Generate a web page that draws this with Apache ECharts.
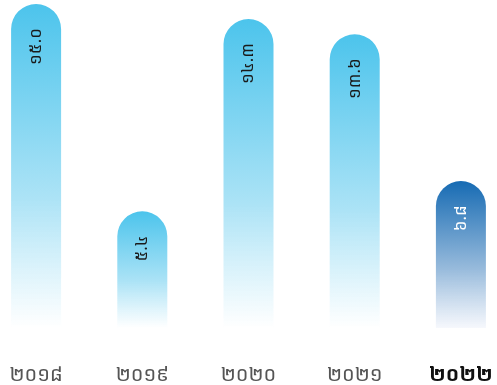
<!DOCTYPE html>
<html>
<head>
<meta charset="utf-8">
<style>
  html, body { margin: 0; padding: 0; background: #ffffff; overflow: hidden; width: 497px; height: 385px; }
  /* the plot runs slightly past both window edges so the outer bars sit close to the border */
  #chart { position: absolute; left: -17px; top: 0; width: 531px; height: 385px; }
</style>
<script src="https://cdn.jsdelivr.net/npm/echarts@6/dist/echarts.min.js"></script>
</head>
<body>
<div id="chart"></div>
<script>
// Years shown on the category axis (Khmer numerals)
const years = ['២០១៨', '២០១៩', '២០២០', '២០២១', '២០២២'];
// Values per year
const values = [15.0, 5.4, 14.3, 13.6, 6.8];
// Labels written inside each bar
const valueLabels = ['១៥.០', '៥.៤', '១៤.៣', '១៣.៦', '៦.៨'];
const highlightIndex = 4;

const FONT = '"Noto Sans Khmer", "Khmer OS", "DejaVu Sans", sans-serif';

function lightFill() {
  return new echarts.graphic.LinearGradient(0, 0, 0, 1, [
    { offset: 0, color: '#4cc4ec' },
    { offset: 0.6, color: '#ace3f6' },
    { offset: 1, color: 'rgba(255,255,255,0.9)' }
  ]);
}
function darkFill() {
  return new echarts.graphic.LinearGradient(0, 0, 0, 1, [
    { offset: 0, color: '#176bb3' },
    { offset: 0.6, color: '#98bbdc' },
    { offset: 1, color: 'rgba(245,247,252,0.9)' }
  ]);
}

const barData = values.map((v, i) => ({
  value: v,
  itemStyle: { color: i === highlightIndex ? darkFill() : lightFill() },
  label: {
    formatter: valueLabels[i],
    color: i === highlightIndex ? '#ffffff' : '#1a1a1a'
  }
}));

const chart = echarts.init(document.getElementById('chart'), null, { renderer: 'canvas' });
chart.setOption({
  animation: false,
  grid: { left: 0, right: 0, top: 4, bottom: 57 },
  xAxis: {
    type: 'category',
    data: years,
    axisLine: { show: false },
    axisTick: { show: false },
    axisLabel: {
      interval: 0,
      margin: 37,
      fontSize: 20,
      fontFamily: FONT,
      color: '#555555',
      formatter: (val, idx) => idx === highlightIndex ? '{b|' + val + '}' : val,
      rich: {
        b: { fontSize: 20, fontWeight: 'bold', color: '#111111', fontFamily: FONT }
      }
    }
  },
  yAxis: {
    type: 'value',
    min: 0,
    max: 15,
    show: false
  },
  series: [{
    type: 'bar',
    data: barData,
    barWidth: 50,
    itemStyle: { borderRadius: [25, 25, 0, 0] },
    label: {
      show: true,
      position: 'insideTop',
      distance: 24,
      rotate: 90,
      align: 'right',
      verticalAlign: 'middle',
      fontSize: 17,
      fontFamily: FONT
    }
  }]
});
</script>
</body>
</html>
